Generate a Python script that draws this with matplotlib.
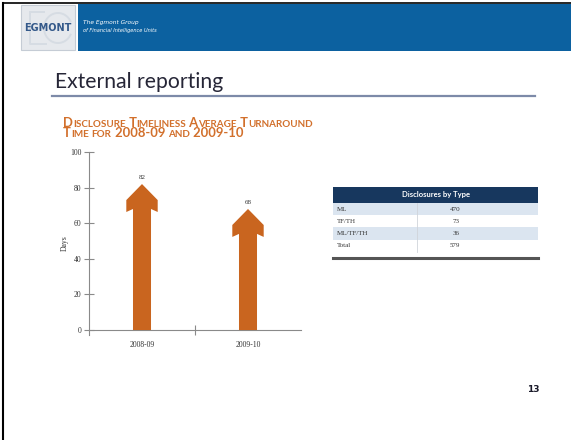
import matplotlib
matplotlib.use("Agg")
import matplotlib.pyplot as plt
from matplotlib.patches import Rectangle, Polygon, Arc
from matplotlib.lines import Line2D

# turnaround chart
periods = ["2008-09", "2009-10"]
avg_days = [82, 68]
y_ticks = [0, 20, 40, 60, 80, 100]

# disclosures table
table_title = "Disclosures by Type"
disc_types = ["ML", "TF/TH", "ML/TF/TH", "Total"]
disc_counts = [470, 73, 36, 579]

W, H = 571, 440
ORANGE = "#c9651f"
NAVY = "#17375e"

fig = plt.figure(figsize=(W / 100, H / 100), dpi=100)
fig.patch.set_facecolor("white")


def fx(px):
    return px / W


def fy(py):
    # py measured from the top edge
    return 1 - py / H


def rect(x0, y0, x1, y1, **kw):
    fig.add_artist(Rectangle((fx(x0), fy(y1)), fx(x1 - x0), (y1 - y0) / H,
                             transform=fig.transFigure, **kw))


def seg(xs, ys, **kw):
    fig.add_artist(Line2D([fx(x) for x in xs], [fy(y) for y in ys], transform=fig.transFigure, **kw))


# slide frame
seg([3, 3], [3, H], color="black", lw=1.5)
seg([3, W], [3, 3], color="black", lw=1.2)

# header band and logo
rect(78, 4, W, 51, facecolor="#0c61a0", edgecolor="none")
rect(21, 5, 75, 50, facecolor="#e6e9ed", edgecolor="#c5ccd5", lw=0.8)
faint = dict(color="#d6dce3", lw=1.4)
seg([30, 30, 46], [12, 44, 44], **faint)
seg([30, 44], [12, 12], **faint)
seg([30, 41], [28, 28], **faint)
fig.add_artist(Arc((fx(58), fy(28)), fx(28), 30 / H, theta1=30, theta2=330,
                   transform=fig.transFigure, **faint))
fig.text(fx(48), fy(28), "EGMONT", ha="center", va="center", fontsize=7, color="#34598a",
         fontweight="bold", family="Liberation Sans Narrow")
fig.text(fx(83), fy(24), "The Egmont Group", fontsize=4.2, color="white", style="italic", va="baseline")
fig.text(fx(83), fy(32), "of Financial Intelligence Units", fontsize=3.6, color="white",
         style="italic", va="baseline")

# slide title
fig.text(fx(55), fy(88), "External reporting", fontsize=15.2, color="#262637", family="Lato",
         va="baseline")
seg([52, 535], [96, 96], color="#7d8aa8", lw=1.6)

# chart heading in small caps
renderer = fig.canvas.get_renderer()


def small_caps(x, y, s, big=9.4, small=7.1):
    cx = fx(x)
    runs = []
    for ch in s:
        is_big = not ch.islower()
        if runs and runs[-1][0] == is_big:
            runs[-1][1] += ch
        else:
            runs.append([is_big, ch])
    for is_big, txt in runs:
        t = fig.text(cx, fy(y), txt.upper(), fontsize=big if is_big else small, color="#d2702c",
                     family="Lato", fontweight="bold", va="baseline")
        cx += t.get_window_extent(renderer).width / W


small_caps(63, 127, "Disclosure Timeliness Average Turnaround")
small_caps(63, 137, "Time for 2008-09 and 2009-10")

# chart axes
ax = fig.add_axes([fx(89), fy(334.5), fx(212), (334.5 - 152) / H])
ax.set_xlim(-0.5, 1.5)
ax.set_ylim(-2.5, 100)
for s in ["top", "right"]:
    ax.spines[s].set_visible(False)
ax.spines["bottom"].set_position(("data", 0))
for s in ["left", "bottom"]:
    ax.spines[s].set_color("#8a8a8a")
    ax.spines[s].set_linewidth(0.8)
ax.patch.set_alpha(0)

ax.set_yticks(y_ticks)
ax.tick_params(axis="y", direction="inout", length=7, width=0.8, color="#8a8a8a",
               labelsize=5.5, labelcolor="#333333", pad=2)
ax.set_xticks(range(len(periods)))
ax.set_xticklabels(periods)
ax.set_xticks([0.5], minor=True)
ax.tick_params(axis="x", which="major", length=0, labelsize=5.5, labelcolor="#333333", pad=8)
ax.tick_params(axis="x", which="minor", direction="inout", length=7, width=0.8, color="#8a8a8a")
for lab in ax.get_xticklabels() + ax.get_yticklabels():
    lab.set_family("Liberation Serif")
ax.set_ylabel("Days", fontsize=5.5, family="Liberation Serif", color="#333333", labelpad=1)

# arrow-shaped bars
shaft_hw, head_hw = 0.085, 0.148
for i, v in enumerate(avg_days):
    pts = [(i - shaft_hw, 0), (i - shaft_hw, v - 14), (i - head_hw, v - 15.7), (i - head_hw, v - 9),
           (i, v), (i + head_hw, v - 9), (i + head_hw, v - 15.7), (i + shaft_hw, v - 14),
           (i + shaft_hw, 0)]
    ax.add_patch(Polygon(pts, closed=True, facecolor=ORANGE, edgecolor="none", zorder=3))
    ax.annotate(str(v), (i, v), xytext=(0, 3), textcoords="offset points", ha="center",
                va="bottom", fontsize=5, family="Liberation Serif", color="#333333")

# disclosures table
tx0, tx1, tsep = 333, 538, 417
rect(tx0, 187, tx1, 203, facecolor=NAVY, edgecolor="none")
fig.text(fx((tx0 + tx1) / 2), fy(195), table_title, ha="center", va="center", fontsize=5.5,
         color="white", fontweight="bold", family="Lato")
row_h = 12.2
for r, (name, cnt) in enumerate(zip(disc_types, disc_counts)):
    y0 = 203 + r * row_h
    rect(tx0, y0, tx1, y0 + row_h, facecolor="#dbe5f0" if r % 2 == 0 else "white",
         edgecolor="none")
    fig.text(fx(337), fy(y0 + row_h / 2), name, va="center", fontsize=5, family="Liberation Serif",
             color="#333333")
    fig.text(fx(460), fy(y0 + row_h / 2), str(cnt), va="center", ha="right", fontsize=5,
             family="Liberation Serif", color="#333333")
seg([tsep, tsep], [203, 203 + 4 * row_h], color="#d0d4da", lw=0.6)
seg([tx0, tx1], [257.5, 257.5], color="#555555", lw=2.2)

# page number
fig.text(fx(533), fy(389), "13", ha="center", va="center", fontsize=6.5, fontweight="bold",
         color="#1a1a2a")

fig.savefig("out.png", dpi=100)
